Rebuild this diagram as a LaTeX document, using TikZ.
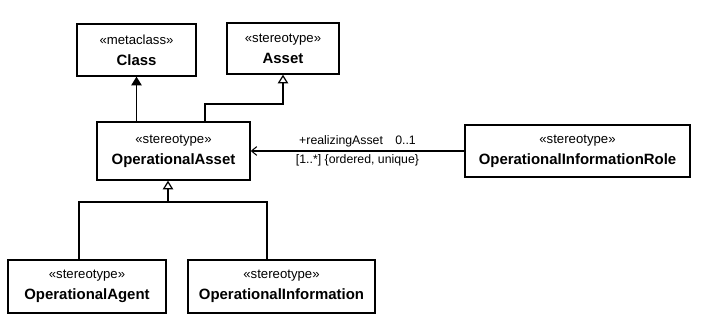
\documentclass[tikz,border=0pt]{standalone}
\usepackage{fontspec}
\setmainfont{Liberation Sans}
\usetikzlibrary{positioning,arrows.meta}

\tikzset{
  stereo/.style={draw,line width=0.8pt,align=center,inner sep=1pt,
    font=\fontsize{8.5}{10}\selectfont\bfseries},
  gen/.style={line width=0.7pt,-{Triangle[open,length=5pt,width=6pt]}},
  ext/.style={line width=0.7pt,-{Triangle[fill=black,length=5pt,width=6pt]}},
  assoc/.style={line width=0.6pt,-{Straight Barb[length=3pt,width=5pt]}},
  lbl/.style={font=\fontsize{7}{8}\selectfont,inner sep=1pt}
}
\newcommand{\st}[1]{{\fontsize{7.5}{8}\selectfont\mdseries\guillemotleft#1\guillemotright}\\[2pt]}

\begin{document}
\begin{tikzpicture}[x=0.02cm,y=0.02cm]
\useasboundingbox (0,0) rectangle (701,330);
% upper row
\node[stereo,minimum width=2.38cm,minimum height=1.04cm] (cls) at (136.5,280) {\st{metaclass}Class};
\node[stereo,minimum width=2.24cm,minimum height=1.02cm] (asset) at (283,281.5) {\st{stereotype}Asset};
% middle row
\node[stereo,minimum width=3.06cm,minimum height=1.16cm] (opasset) at (173.5,179) {\st{stereotype}OperationalAsset};
\node[stereo,minimum width=4.5cm,minimum height=1.04cm] (role) at (577.5,179) {\st{stereotype}OperationalInformationRole};
% lower row
\node[stereo,minimum width=3.16cm,minimum height=1.06cm] (agent) at (87,43.5) {\st{stereotype}OperationalAgent};
\node[stereo,minimum width=3.74cm,minimum height=1.06cm] (info) at (281.5,43.5) {\st{stereotype}OperationalInformation};

\coordinate (bar) at (168,128);
\coordinate (elbow) at (205,226);

\draw[ext] (cls.south |- opasset.north) -- (cls.south);
\draw[gen] (elbow |- opasset.north) -- (elbow) -| (asset.south);
\draw[assoc] (role) -- node[lbl,above=1pt] {+realizingAsset\quad 0..1}
  node[lbl,below=1pt] {[1..*] \{ordered, unique\}} (opasset);
\draw[line width=0.7pt] ([xshift=-0.16cm]agent.north) |- (bar);
\draw[line width=0.7pt] ([xshift=-0.29cm]info.north) |- (bar);
\draw[gen] (bar) -- (bar |- opasset.south);
\end{tikzpicture}
\end{document}
